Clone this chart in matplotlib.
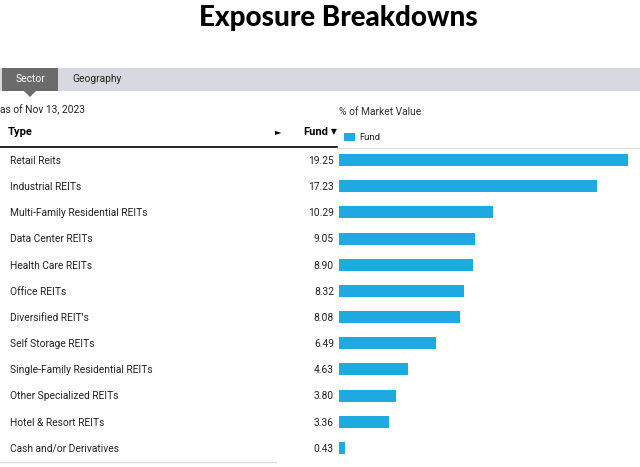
import matplotlib.pyplot as plt
import matplotlib.transforms as mtransforms
from matplotlib.patches import Rectangle, Polygon

# Data
sectors = ['Retail Reits', 'Industrial REITs', 'Multi-Family Residential REITs',
           'Data Center REITs', 'Health Care REITs', 'Office REITs',
           "Diversified REIT's", 'Self Storage REITs', 'Single-Family Residential REITs',
           'Other Specialized REITs', 'Hotel & Resort REITs', 'Cash and/or Derivatives']
fund = [19.25, 17.23, 10.29, 9.05, 8.90, 8.32, 8.08, 6.49, 4.63, 3.80, 3.36, 0.43]

W, H = 640, 467
plt.rcParams['font.family'] = ['Roboto', 'DejaVu Sans']
fig = plt.figure(figsize=(W / 100, H / 100), dpi=100)

# background layer in pixel coordinates
bg = fig.add_axes([0, 0, 1, 1])
bg.set_xlim(0, W)
bg.set_ylim(H, 0)
bg.axis('off')

fig.text(0.528, 1 - 18 / H, 'Exposure Breakdowns', ha='center', va='center',
         fontsize=20, fontweight='black', family=['Lato', 'DejaVu Sans'])

# tabs
bg.add_patch(Rectangle((0, 68), W, 23, color='#d8d8e0', lw=0))
bg.add_patch(Rectangle((2, 68), 56, 23, color='#6b6b6b', lw=0))
bg.add_patch(Polygon([(24, 91), (36, 91), (30, 97)], closed=True, color='#6b6b6b', lw=0))
bg.text(30, 79.5, 'Sector', color='white', ha='center', va='center', fontsize=7.4)
bg.text(72, 79.5, 'Geography', color='#222222', ha='left', va='center', fontsize=7.4)

bg.text(0, 110, 'as of Nov 13, 2023', ha='left', va='center', fontsize=7.4, color='#222222')
bg.text(339, 112, '% of Market Value', ha='left', va='center', fontsize=7.4, color='#333333')

# header row
bg.text(8, 132, 'Type', ha='left', va='center', fontsize=8, fontweight='bold')
bg.text(278, 132, '\u25ba', ha='center', va='center', fontsize=6, family=['DejaVu Sans'])
bg.text(328, 132, 'Fund', ha='right', va='center', fontsize=8, fontweight='bold')
bg.text(334, 132, '\u25bc', ha='center', va='center', fontsize=5.5, family=['DejaVu Sans'])
bg.add_patch(Rectangle((344, 133), 11, 8, color='#1fa9e1', lw=0))
bg.text(359, 137.5, 'Fund', ha='left', va='center', fontsize=6.8, color='#222222')
bg.plot([0, 337], [147, 147], color='black', lw=1.2)
bg.plot([337, W], [148, 148], color='#dddddd', lw=1)
bg.plot([0, 276], [462, 462], color='#dddddd', lw=1)

# bars
ax = fig.add_axes([339 / W, 1 - 461 / H, 300 / W, 314 / H])
ypos = list(range(len(sectors)))
ax.barh(ypos, fund, height=0.46, color='#1fa9e1')
ax.set_xlim(0, 20)
ax.set_ylim(len(sectors) - 0.5, -0.5)
ax.axis('off')

trans = mtransforms.blended_transform_factory(bg.transData, ax.transData)
for y, name, v in zip(ypos, sectors, fund):
    bg.text(10, y + 0.03, name, transform=trans, ha='left', va='center', fontsize=7.4, color='#222222')
    bg.text(334, y + 0.03, f'{v:.2f}', transform=trans, ha='right', va='center', fontsize=7.4, color='#222222')

fig.savefig('out.png', dpi=100)
